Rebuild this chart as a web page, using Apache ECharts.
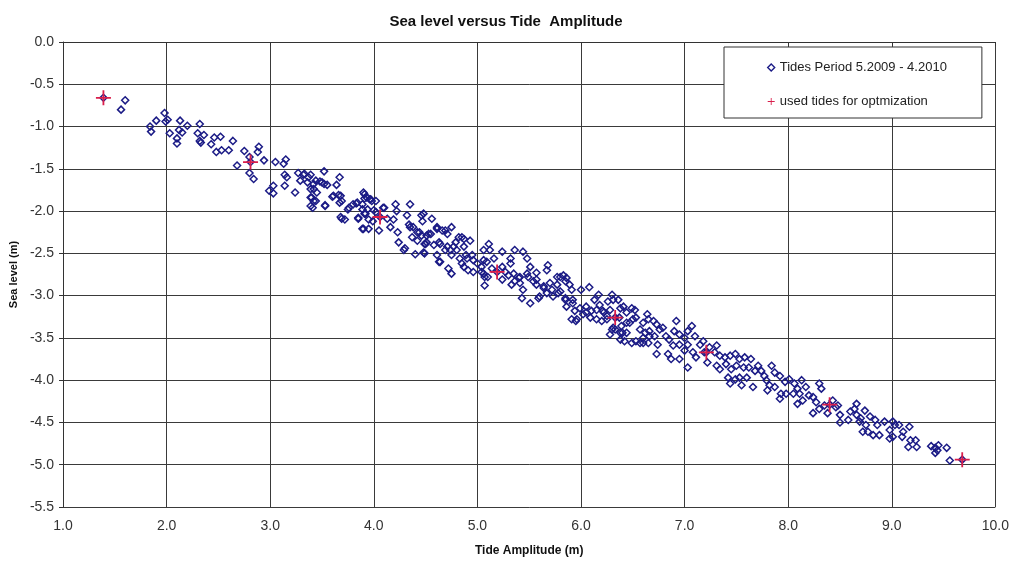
<!DOCTYPE html>
<html>
<head>
<meta charset="utf-8">
<title>Sea level versus Tide Amplitude</title>
<script src="https://cdn.jsdelivr.net/npm/echarts@6/dist/echarts.min.js"></script>
<style>
  html, body { margin: 0; padding: 0; background: #fff; }
  #chart-container { width: 1012px; height: 562px; }
</style>
</head>
<body>
<div id="chart-container"></div>
<script>
// [tide amplitude (m), sea level (m)], grouped by amplitude range
const tides1to3 = [
    [1.39, -0.66], [1.60, -0.69], [1.56, -0.80], [1.98, -0.84], [2.01, -0.92], [1.90, -0.93],
    [1.84, -1.00], [1.85, -1.06], [1.99, -0.94], [2.13, -0.93], [2.20, -0.99], [2.32, -0.97],
    [2.12, -1.04], [2.15, -1.07], [2.03, -1.08], [2.10, -1.14], [2.10, -1.20], [2.30, -1.08],
    [2.36, -1.10], [2.32, -1.17], [2.33, -1.19], [2.46, -1.13], [2.52, -1.12], [2.43, -1.21],
    [2.48, -1.30], [2.53, -1.28], [2.60, -1.28], [2.64, -1.17], [2.75, -1.29], [2.80, -1.36],
    [2.81, -1.42], [2.89, -1.24], [2.88, -1.30], [2.94, -1.40], [2.68, -1.46], [2.80, -1.55],
    [2.84, -1.62], [2.99, -1.76], [3.03, -1.70], [3.03, -1.79], [3.05, -1.42], [3.13, -1.44],
    [3.15, -1.39], [3.14, -1.57], [3.16, -1.60], [3.14, -1.70], [3.24, -1.78], [3.27, -1.55]
];
const tides3to4 = [
    [3.32, -1.57], [3.37, -1.60], [3.29, -1.64], [3.36, -1.66], [3.42, -1.68], [3.48, -1.65],
    [3.52, -1.53], [3.52, -1.68], [3.55, -1.69], [3.39, -1.74], [3.45, -1.78], [3.40, -1.84],
    [3.44, -1.88], [3.39, -1.94], [3.41, -1.96], [3.53, -1.93], [3.67, -1.60], [3.64, -1.69],
    [3.60, -1.83], [3.66, -1.81], [3.68, -1.82], [3.67, -1.90], [3.69, -2.09], [3.72, -2.10],
    [3.75, -1.98], [3.80, -1.92], [3.84, -1.90], [3.85, -2.09], [3.91, -1.80], [3.91, -1.85],
    [3.89, -1.92], [3.94, -1.98], [3.91, -2.03], [3.97, -1.86], [4.02, -1.88], [3.95, -2.10],
    [3.90, -2.21], [3.95, -2.21], [4.05, -2.23], [4.09, -1.96], [4.06, -2.07], [3.33, -1.56],
    [3.39, -1.57], [3.44, -1.64], [3.50, -1.66], [3.42, -1.74], [3.39, -1.84], [3.42, -1.88],
    [3.53, -1.94], [3.69, -1.88], [3.68, -2.07], [3.83, -1.91], [3.90, -1.78], [3.93, -1.84],
    [3.96, -1.86], [3.89, -1.98], [3.92, -2.03], [3.85, -2.08], [4.02, -2.01], [3.89, -2.21],
    [3.99, -2.12], [3.61, -1.82], [3.76, -1.96], [3.98, -1.88], [4.00, -1.99]
];
const tides4to5 = [
    [4.10, -1.96], [4.13, -2.09], [4.19, -2.10], [4.21, -1.92], [4.22, -2.00], [4.35, -1.92],
    [4.32, -2.05], [4.16, -2.19], [4.23, -2.25], [4.24, -2.37], [4.29, -2.46], [4.34, -2.16],
    [4.38, -2.19], [4.44, -2.25], [4.46, -2.05], [4.47, -2.12], [4.51, -2.29], [4.37, -2.31],
    [4.42, -2.35], [4.49, -2.39], [4.48, -2.49], [4.40, -2.51], [4.30, -2.44], [4.35, -2.19],
    [4.42, -2.25], [4.46, -2.29], [4.48, -2.03], [4.56, -2.09], [4.61, -2.19], [4.66, -2.23],
    [4.75, -2.19], [4.71, -2.27], [4.53, -2.27], [4.50, -2.39], [4.58, -2.40], [4.63, -2.37],
    [4.49, -2.50], [4.61, -2.52], [4.64, -2.60], [4.69, -2.46], [4.77, -2.42], [4.82, -2.31],
    [4.87, -2.33], [4.93, -2.35], [4.87, -2.42], [4.80, -2.46], [4.75, -2.52], [4.72, -2.68],
    [4.75, -2.74], [4.83, -2.56], [4.90, -2.56], [4.95, -2.52], [4.87, -2.66], [4.91, -2.70],
    [4.96, -2.72], [4.55, -2.27], [4.61, -2.21], [4.69, -2.23], [4.51, -2.37], [4.64, -2.39],
    [4.71, -2.42], [4.63, -2.60], [4.74, -2.46], [4.79, -2.37], [4.85, -2.31], [4.89, -2.52],
    [4.85, -2.62], [4.96, -2.58]
];
const tides5to6 = [
    [5.00, -2.62], [5.06, -2.46], [5.11, -2.39], [5.12, -2.46], [5.06, -2.58], [5.09, -2.60],
    [5.14, -2.68], [5.04, -2.72], [5.07, -2.78], [5.07, -2.88], [5.16, -2.56], [5.19, -2.72],
    [5.24, -2.48], [5.32, -2.56], [5.36, -2.46], [5.44, -2.48], [5.48, -2.56], [5.51, -2.66],
    [5.57, -2.73], [5.68, -2.64], [5.67, -2.70], [5.27, -2.72], [5.24, -2.81], [5.30, -2.76],
    [5.35, -2.74], [5.40, -2.79], [5.33, -2.87], [5.41, -2.85], [5.44, -2.93], [5.43, -3.03],
    [5.49, -2.78], [5.54, -2.83], [5.57, -2.87], [5.60, -3.01], [5.51, -3.09], [5.64, -2.91],
    [5.67, -2.97], [5.72, -2.93], [5.77, -2.87], [5.73, -3.01], [5.80, -2.78], [5.86, -2.79],
    [5.78, -2.97], [5.85, -3.03], [5.59, -3.03], [5.04, -2.66], [5.06, -2.74], [5.10, -2.78],
    [5.24, -2.66], [5.32, -2.62], [5.36, -2.83], [5.41, -2.78], [5.48, -2.74], [5.57, -2.81],
    [5.64, -2.89], [5.70, -2.85], [5.77, -2.78], [5.80, -2.95], [5.83, -2.76], [5.85, -2.83],
    [5.89, -2.87], [5.91, -2.93], [5.85, -3.05], [5.86, -3.13], [5.92, -3.05], [5.91, -3.28],
    [5.95, -3.30], [5.94, -3.18], [5.99, -3.15], [5.92, -3.09], [5.96, -3.28]
];
const tides6to7 = [
    [6.00, -2.93], [6.08, -2.90], [6.02, -3.22], [6.05, -3.13], [6.10, -3.18], [6.13, -3.05],
    [6.17, -2.99], [6.18, -3.11], [6.09, -3.26], [6.15, -3.28], [6.20, -3.30], [6.21, -3.18],
    [6.26, -3.07], [6.30, -2.99], [6.31, -3.05], [6.36, -3.05], [6.28, -3.17], [6.33, -3.26],
    [6.38, -3.15], [6.41, -3.13], [6.44, -3.20], [6.49, -3.15], [6.52, -3.17], [6.28, -3.46],
    [6.33, -3.40], [6.38, -3.52], [6.39, -3.36], [6.44, -3.44], [6.47, -3.32], [6.50, -3.28],
    [6.53, -3.26], [6.49, -3.56], [6.53, -3.54], [6.57, -3.40], [6.60, -3.32], [6.64, -3.22],
    [6.65, -3.28], [6.70, -3.30], [6.62, -3.44], [6.66, -3.42], [6.60, -3.56], [6.65, -3.56],
    [6.73, -3.34], [6.76, -3.40], [6.79, -3.38], [6.71, -3.48], [6.74, -3.58], [6.73, -3.69],
    [6.82, -3.48], [6.85, -3.52], [6.92, -3.30], [6.90, -3.42], [6.95, -3.46], [6.89, -3.59],
    [6.84, -3.69], [6.95, -3.58], [6.95, -3.75], [6.05, -3.20], [6.15, -3.17], [6.22, -3.20],
    [6.25, -3.28], [6.30, -3.40], [6.38, -3.44], [6.44, -3.32], [6.66, -3.48], [6.25, -3.24],
    [6.37, -3.26], [6.31, -3.38], [6.40, -3.44], [6.42, -3.54], [6.57, -3.56], [6.60, -3.50],
    [6.87, -3.75]
];
const tides7to8 = [
    [7.00, -3.50], [7.03, -3.42], [7.07, -3.36], [7.10, -3.48], [7.03, -3.58], [7.00, -3.65],
    [7.08, -3.67], [7.11, -3.73], [7.15, -3.58], [7.19, -3.67], [7.03, -3.85], [7.21, -3.67],
    [7.18, -3.54], [7.31, -3.59], [7.24, -3.61], [7.29, -3.67], [7.34, -3.71], [7.39, -3.73],
    [7.44, -3.71], [7.49, -3.69], [7.22, -3.79], [7.31, -3.83], [7.34, -3.87], [7.40, -3.81],
    [7.45, -3.87], [7.53, -3.75], [7.58, -3.73], [7.64, -3.75], [7.50, -3.83], [7.57, -3.85],
    [7.62, -3.85], [7.42, -3.97], [7.44, -4.04], [7.49, -3.99], [7.55, -4.06], [7.53, -3.97],
    [7.60, -3.97], [7.66, -4.08], [7.68, -3.89], [7.71, -3.83], [7.74, -3.89], [7.77, -3.95],
    [7.79, -4.00], [7.84, -3.83], [7.87, -3.91], [7.82, -4.06], [7.80, -4.12], [7.87, -4.08],
    [7.92, -3.95], [7.93, -4.16], [7.92, -4.22], [7.97, -4.02], [7.98, -4.16]
];
const tides8to10 = [
    [8.01, -3.99], [8.06, -4.04], [8.09, -4.10], [8.13, -4.00], [8.17, -4.08], [8.05, -4.16],
    [8.11, -4.16], [8.09, -4.28], [8.14, -4.24], [8.20, -4.18], [8.24, -4.20], [8.30, -4.04],
    [8.32, -4.10], [8.27, -4.26], [8.24, -4.39], [8.30, -4.34], [8.35, -4.30], [8.40, -4.29],
    [8.43, -4.24], [8.46, -4.32], [8.38, -4.39], [8.50, -4.41], [8.48, -4.30], [8.50, -4.50],
    [8.58, -4.47], [8.60, -4.37], [8.66, -4.28], [8.64, -4.34], [8.74, -4.36], [8.66, -4.41],
    [8.70, -4.45], [8.69, -4.49], [8.79, -4.43], [8.84, -4.47], [8.75, -4.53], [8.72, -4.61],
    [8.77, -4.61], [8.82, -4.65], [8.88, -4.65], [8.86, -4.53], [8.93, -4.49], [8.98, -4.59],
    [9.01, -4.49], [9.03, -4.53], [8.98, -4.69], [9.01, -4.67], [9.07, -4.53], [9.10, -4.67],
    [9.11, -4.61], [9.17, -4.55], [9.18, -4.71], [9.23, -4.71], [9.16, -4.79], [9.24, -4.79],
    [9.38, -4.78], [9.42, -4.80], [9.45, -4.77], [9.44, -4.83], [9.42, -4.86], [9.53, -4.80],
    [9.56, -4.95], [9.68, -4.94]
];
const usedTides = [
    [1.39, -0.66], [2.81, -1.42], [4.06, -2.07], [5.19, -2.72],
    [6.33, -3.26], [7.21, -3.67], [8.40, -4.29], [9.68, -4.94]
];
const xTicks = [1, 2, 3, 4, 5, 6, 7, 8, 9, 10];
const yTicks = [0, -0.5, -1, -1.5, -2, -2.5, -3, -3.5, -4, -4.5, -5, -5.5];

const FONT = '"Liberation Sans", Arial, sans-serif';
const NAVY = '#1b1b86';
const RED = '#d91e4b';
const PLUS = 'path://M4.4,0h1.2v10h-1.2z M0,4.4h10v1.2h-10z';

const allTides = [].concat(tides1to3, tides3to4, tides4to5, tides5to6, tides6to7, tides7to8, tides8to10);

const chart = echarts.init(document.querySelector('#chart-container'), null, {
    renderer: 'canvas',
    devicePixelRatio: 1
});

chart.setOption({
    animation: false,
    backgroundColor: '#fff',
    textStyle: { fontFamily: FONT },
    title: {
        text: 'Sea level versus Tide  Amplitude',
        left: 'center',
        top: 9,
        textStyle: { fontFamily: FONT, fontSize: 15, fontWeight: 'bold', color: '#111' }
    },
    legend: {
        orient: 'vertical',
        left: 724,
        top: 47,
        padding: [14, 35, 10, 43],
        itemGap: 21,
        itemWidth: 7,
        itemHeight: 7,
        backgroundColor: '#fff',
        borderColor: '#333',
        borderWidth: 1,
        borderRadius: 0,
        textStyle: { fontFamily: FONT, fontSize: 13, color: '#222' },
        data: [
            {
                name: 'Tides Period 5.2009 - 4.2010',
                icon: 'diamond',
                itemStyle: { color: 'rgba(0,0,0,0)', borderColor: NAVY, borderWidth: 1.4 }
            },
            { name: 'used tides for optmization', icon: PLUS, itemStyle: { color: RED } }
        ]
    },
    grid: { left: 62, right: 14, top: 42, bottom: 49, containLabel: false },
    xAxis: {
        type: 'value',
        min: xTicks[0],
        max: xTicks[xTicks.length - 1],
        interval: 1,
        name: 'Tide Amplitude (m)',
        nameLocation: 'middle',
        nameGap: 38,
        nameTextStyle: { fontFamily: FONT, fontSize: 12, fontWeight: 'bold', color: '#111' },
        axisLine: { show: true, lineStyle: { color: '#333', width: 1 } },
        axisTick: { show: true, inside: false, length: 4, lineStyle: { color: '#333' } },
        axisLabel: {
            margin: 12,
            fontSize: 14,
            color: '#333',
            formatter: v => v.toFixed(1)
        },
        splitLine: { show: true, lineStyle: { color: '#3a3a3a', width: 1 } }
    },
    yAxis: {
        type: 'value',
        min: yTicks[yTicks.length - 1],
        max: yTicks[0],
        interval: 0.5,
        name: 'Sea level (m)',
        nameLocation: 'middle',
        nameGap: 44,
        nameTextStyle: { fontFamily: FONT, fontSize: 11, fontWeight: 'bold', color: '#111' },
        axisLine: { show: true, onZero: false, lineStyle: { color: '#333', width: 1 } },
        axisTick: { show: true, inside: false, length: 4, lineStyle: { color: '#333' } },
        axisLabel: {
            margin: 9,
            fontSize: 14,
            color: '#333',
            formatter: v => v.toFixed(1)
        },
        splitLine: { show: true, lineStyle: { color: '#3a3a3a', width: 1 } }
    },
    series: [
        {
            name: 'Tides Period 5.2009 - 4.2010',
            type: 'scatter',
            symbol: 'diamond',
            symbolSize: 7,
            data: allTides,
            itemStyle: { color: 'rgba(0,0,0,0)', borderColor: NAVY, borderWidth: 1.5, opacity: 1 },
            emphasis: { disabled: true },
            z: 2
        },
        {
            name: 'used tides for optmization',
            type: 'scatter',
            symbol: PLUS,
            symbolSize: 15,
            data: usedTides,
            itemStyle: { color: RED, opacity: 1 },
            emphasis: { disabled: true },
            z: 3
        }
    ]
});
</script>
</body>
</html>
